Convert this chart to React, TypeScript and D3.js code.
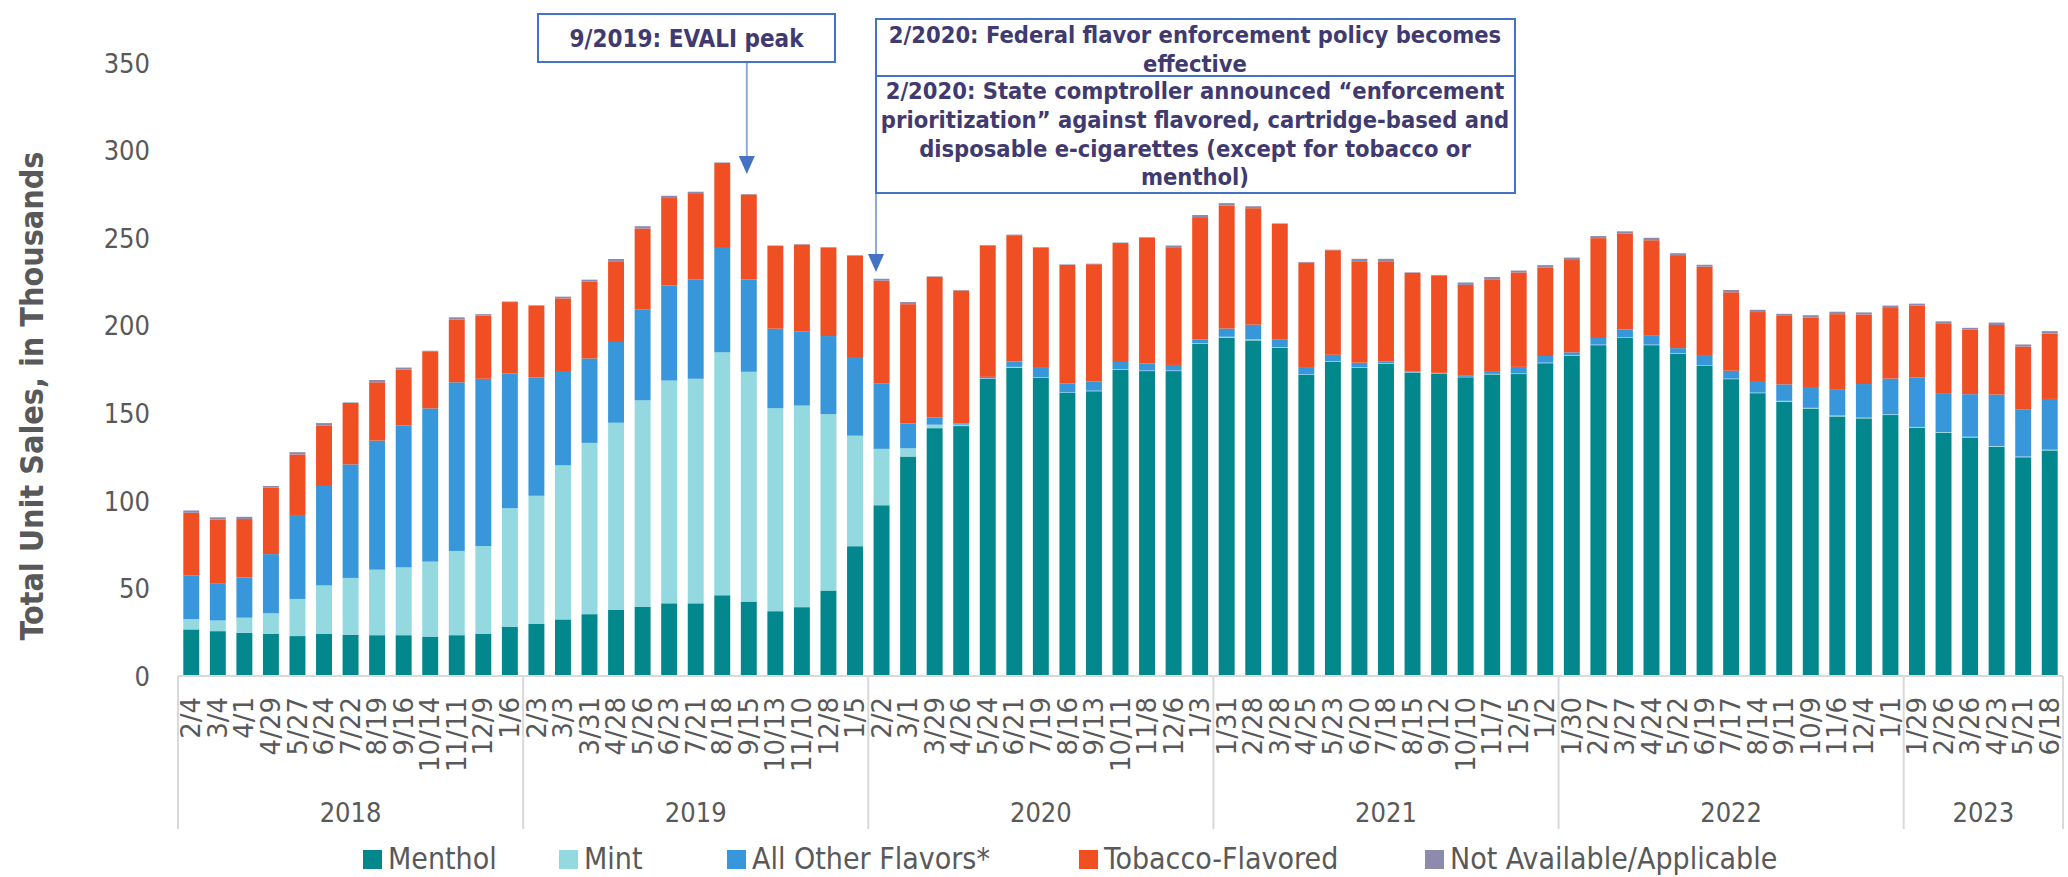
import React from 'react';
import * as d3 from 'd3';

// 4-week periods, grouped by year
const periods = [
  '2/4', '3/4', '4/1', '4/29', '5/27', '6/24', '7/22', '8/19', '9/16', '10/14', '11/11', '12/9', '1/6',
  '2/3', '3/3', '3/31', '4/28', '5/26', '6/23', '7/21', '8/18', '9/15', '10/13', '11/10', '12/8', '1/5',
  '2/2', '3/1', '3/29', '4/26', '5/24', '6/21', '7/19', '8/16', '9/13', '10/11', '11/8', '12/6', '1/3',
  '1/31', '2/28', '3/28', '4/25', '5/23', '6/20', '7/18', '8/15', '9/12', '10/10', '11/7', '12/5', '1/2',
  '1/30', '2/27', '3/27', '4/24', '5/22', '6/19', '7/17', '8/14', '9/11', '10/9', '11/6', '12/4', '1/1',
  '1/29', '2/26', '3/26', '4/23', '5/21', '6/18',
];
const years = ['2018', '2019', '2020', '2021', '2022', '2023'];
const yearCounts = [13, 13, 13, 13, 13, 6];

// unit sales, thousands
const menthol = [
  26.6, 25.6, 24.6, 24.0, 22.8, 24.0, 23.6, 23.3, 23.3, 22.5, 23.3, 24.0, 28.2,
  29.7, 32.3, 35.3, 37.9, 39.4, 41.5, 41.5, 46.1, 42.5, 37.0, 39.3, 48.8, 74.1,
  97.5, 125.3, 141.5, 142.7, 169.6, 176.0, 170.2, 161.6, 162.6, 174.9, 174.1, 174.1, 189.7,
  193.2, 191.6, 187.3, 171.9, 179.5, 176.0, 178.4, 173.1, 172.5, 170.6, 172.2, 172.4, 178.6,
  182.9, 188.9, 193.0, 188.9, 184.0, 177.0, 169.5, 161.5, 156.6, 152.7, 148.2, 147.1, 149.0,
  141.8, 138.9, 136.2, 130.9, 124.9, 128.8,
];
const mint = [
  5.9, 6.1, 8.7, 11.8, 21.2, 27.7, 32.4, 37.4, 38.7, 42.8, 48.1, 50.2, 67.6,
  73.2, 88.0, 97.8, 106.7, 118.0, 127.2, 128.2, 138.7, 131.2, 115.9, 115.1, 100.7, 63.1,
  32.2, 4.7, 2.0, 0.8, 0.3, 0.5, 0.3, 0.3, 0.3, 0.3, 0.3, 0.3, 0.3,
  0.5, 0.6, 0.5, 0.3, 0.3, 0.3, 0.3, 0.2, 0.2, 0.2, 0.3, 0.3, 0.3,
  0.3, 0.3, 0.3, 0.3, 0.3, 0.3, 0.3, 0.3, 0.5, 0.4, 0.5, 0.4, 0.4,
  0.4, 0.4, 0.4, 0.4, 0.4, 0.4,
];
const otherFlavors = [
  24.8, 21.3, 23.0, 33.8, 47.4, 56.8, 64.8, 73.7, 81.1, 87.5, 96.3, 95.5, 77.0,
  67.6, 53.3, 48.2, 46.1, 52.0, 54.3, 56.6, 59.6, 52.7, 45.4, 42.2, 44.6, 44.4,
  37.2, 14.2, 4.1, 0.7, 0.9, 3.0, 5.9, 5.2, 5.3, 4.1, 4.0, 3.2, 2.2,
  4.7, 8.4, 4.2, 4.2, 3.6, 2.6, 1.0, 0.6, 0.4, 0.6, 1.6, 3.8, 3.8,
  1.6, 3.8, 4.6, 5.4, 2.9, 6.0, 4.5, 6.1, 9.4, 11.9, 14.7, 19.2, 20.4,
  28.2, 21.8, 24.3, 29.4, 27.0, 29.0,
];
const tobacco = [
  35.9, 36.3, 33.3, 37.9, 35.1, 34.6, 35.1, 33.3, 31.8, 32.6, 35.8, 36.1, 40.7,
  41.0, 42.0, 44.0, 46.1, 46.1, 49.9, 48.9, 48.5, 48.5, 47.2, 49.7, 50.5, 58.4,
  58.8, 68.1, 80.3, 75.9, 75.0, 72.2, 68.2, 67.6, 66.9, 67.9, 71.9, 66.8, 69.8,
  70.2, 66.5, 66.1, 59.7, 59.7, 57.9, 57.1, 56.3, 55.6, 51.9, 52.4, 53.9, 50.6,
  52.7, 57.0, 54.8, 54.2, 53.1, 50.4, 44.8, 39.9, 39.1, 39.7, 43.2, 39.7, 40.3,
  41.1, 40.3, 36.8, 39.7, 35.8, 37.3,
];
const notAvailable = [
  1.3, 1.3, 1.3, 1.0, 1.3, 1.3, 0.3, 1.3, 1.2, 0.3, 1.3, 0.8, 0.3,
  0.2, 1.0, 1.0, 1.3, 1.3, 1.3, 1.3, 0.3, 0.3, 0.3, 0.3, 0.3, 0.3,
  1.1, 1.2, 0.3, 0.3, 0.3, 0.3, 0.3, 0.3, 0.3, 0.3, 0.3, 1.4, 1.2,
  1.4, 1.1, 0.3, 0.3, 0.3, 1.4, 1.4, 0.3, 0.3, 1.4, 1.3, 1.1, 1.3,
  1.4, 1.2, 1.2, 1.4, 1.1, 1.1, 1.3, 1.3, 1.2, 1.3, 1.4, 1.2, 1.4,
  1.1, 1.1, 1.1, 1.4, 1.2, 1.4,
];

const seriesNames = ['Menthol', 'Mint', 'All Other Flavors*', 'Tobacco-Flavored', 'Not Available/Applicable'];
const seriesValues = [menthol, mint, otherFlavors, tobacco, notAvailable];
const seriesColors = ['#02878c', '#93d9df', '#3897da', '#f04f23', '#8e8aad'];
const yTicks = [0, 50, 100, 150, 200, 250, 300, 350];

const W = 2068;
const H = 877;
const X0 = 178;
const X1 = 2063;
const Y0 = 676;
const Y1 = 63;

const gray = '#595959';
const navy = '#3f3a6f';
const boxBlue = '#4472c4';
const arrowLine = '#8ea9db';
const cond = "'DejaVu Sans Condensed', 'DejaVu Sans', sans-serif";

const legendX = [363, 559, 727, 1079, 1425];

const App = () => {
  const rows = periods.map((p, i) => {
    const r: any = { idx: i, period: p };
    seriesNames.forEach((s, k) => { r[s] = seriesValues[k][i]; });
    return r;
  });
  const stacked = d3.stack<any>().keys(seriesNames)(rows);

  const x = d3.scaleBand<number>()
    .domain(d3.range(periods.length))
    .range([X0, X1])
    .paddingInner(0.4)
    .paddingOuter(0.2);
  const y = d3.scaleLinear().domain([0, 350]).range([Y0, Y1]);
  const step = x.step();

  // year group boundaries
  const bounds = [0, ...d3.cumsum(yearCounts)];

  const evaliX = x(periods.indexOf('9/15'))! + x.bandwidth() / 2 - 2;
  const box2Left = 876;

  const arrowHead = (cx: number, tipY: number) =>
    `M${cx - 8},${tipY - 18} L${cx + 8},${tipY - 18} L${cx},${tipY} Z`;

  return (
    <svg width={W} height={H} style={{ position: 'absolute', left: 0, top: 0, display: 'block', background: '#fff' }}>
      {/* bars */}
      {stacked.map((layer, k) => (
        <g key={layer.key} fill={seriesColors[k]}>
          {layer.map((d, i) => (
            <rect
              key={i}
              x={x(i)}
              width={x.bandwidth()}
              y={y(d[1])}
              height={Math.max(0, y(d[0]) - y(d[1]))}
            />
          ))}
        </g>
      ))}

      {/* y axis labels */}
      {yTicks.map(t => (
        <text key={t} x={150} y={y(t)} dy="0.36em" textAnchor="end"
          fontFamily={cond} fontSize={27} fill={gray}>{t}</text>
      ))}

      <text transform={`translate(43,396) rotate(-90)`} textAnchor="middle"
        fontFamily={cond} fontWeight="bold" fontSize={32} fill={gray}>
        Total Unit Sales, in Thousands
      </text>

      {/* category axis */}
      <line x1={X0} x2={X1} y1={Y0} y2={Y0} stroke="#d9d9d9" strokeWidth={2} />
      {bounds.map((b, i) => (
        <line key={i} x1={X0 + b * step} x2={X0 + b * step} y1={Y0} y2={829}
          stroke="#d9d9d9" strokeWidth={2} />
      ))}
      {periods.map((p, i) => (
        <text key={i} transform={`translate(${x(i)! + x.bandwidth() / 2},697) rotate(-90)`}
          dy="0.35em" textAnchor="end" fontFamily="'DejaVu Sans', sans-serif" fontSize={26} fill={gray}>
          {p}
        </text>
      ))}
      {years.map((yr, i) => (
        <text key={yr} x={X0 + (bounds[i] + bounds[i + 1]) / 2 * step} y={822}
          textAnchor="middle" fontFamily={cond} fontSize={27} fill={gray}>{yr}</text>
      ))}

      {/* legend */}
      {seriesNames.map((s, k) => (
        <g key={s} transform={`translate(${legendX[k]},850)`}>
          <rect width={19} height={19} fill={seriesColors[k]} />
          <text x={25} y={19} fontFamily={cond} fontSize={30} fill={gray}>{s}</text>
        </g>
      ))}

      {/* annotation: EVALI */}
      <line x1={evaliX} x2={evaliX} y1={62} y2={160} stroke={arrowLine} strokeWidth={2} />
      <path d={arrowHead(evaliX, 174)} fill={boxBlue} />
      <rect x={538} y={14} width={297} height={48} fill="#fff" stroke={boxBlue} strokeWidth={2} />
      <text x={686.5} y={47} textAnchor="middle" fontFamily={cond} fontWeight="bold" fontSize={24} fill={navy}>
        9/2019: EVALI peak
      </text>

      {/* annotation: 2/2020 */}
      <line x1={box2Left} x2={box2Left} y1={193} y2={258} stroke={arrowLine} strokeWidth={2} />
      <path d={arrowHead(box2Left, 272)} fill={boxBlue} />
      <rect x={box2Left} y={19} width={639} height={57} fill="#fff" stroke={boxBlue} strokeWidth={2} />
      <rect x={box2Left} y={76} width={639} height={117} fill="#fff" stroke={boxBlue} strokeWidth={2} />
      <g fontFamily={cond} fontWeight="bold" fontSize={23.5} fill={navy} textAnchor="middle">
        <text x={1195} y={43}>2/2020: Federal flavor enforcement policy becomes</text>
        <text x={1195} y={72}>effective</text>
        <text x={1195} y={99}>2/2020: State comptroller announced “enforcement</text>
        <text x={1195} y={128}>prioritization” against flavored, cartridge-based and</text>
        <text x={1195} y={157}>disposable e-cigarettes (except for tobacco or</text>
        <text x={1195} y={185}>menthol)</text>
      </g>
    </svg>
  );
};

export default App;
